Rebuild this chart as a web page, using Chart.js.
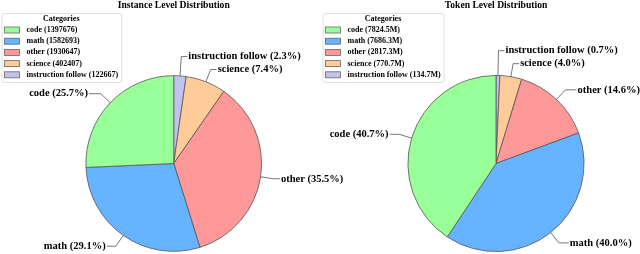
<!DOCTYPE html>
<html>
<head>
<meta charset="utf-8">
<script src="https://cdn.jsdelivr.net/npm/chart.js@4.4.0/dist/chart.umd.min.js"></script>
<style>
html, body { margin: 0; padding: 0; background: #fff; }
.stage { position: relative; width: 640px; height: 254px; }
/* both canvases cover the full width so labels can run past the halfway line */
.stage canvas { position: absolute; left: 0; top: 0; }
</style>
</head>
<body>
<div class="stage">
  <canvas id="instanceChart" width="640" height="254"></canvas>
  <canvas id="tokenChart" width="640" height="254"></canvas>
</div>
<script>
const categories = ['code', 'math', 'other', 'science', 'instruction follow'];
const instanceCounts = [1397676, 1582693, 1930647, 402407, 122667];
const tokenCounts = [7824.5, 7686.3, 2817.3, 770.7, 134.7]; // millions of tokens
const sliceColors = ['#99ff99', '#66b3ff', '#ff9999', '#ffcc99', '#c2c2f0'];

const SERIF = '"Liberation Serif", "Times New Roman", serif';

// original goes counter-clockwise from 12 o'clock, chart.js goes clockwise -> reverse
const rev = arr => arr.slice().reverse();

// outside labels with leader lines, placed from each arc's own geometry
const pieLabels = {
    id: 'pieLabels',
    afterDatasetsDraw(chart) {
        const ctx = chart.ctx;
        const values = chart.data.datasets[0].data;
        const total = values.reduce((a, b) => a + b, 0);
        const items = chart.getDatasetMeta(0).data.map((arc, i) => {
            const p = arc.getProps(['x', 'y', 'startAngle', 'endAngle', 'outerRadius'], true);
            const mid = (p.startAngle + p.endAngle) / 2;
            const c = Math.cos(mid), s = Math.sin(mid);
            return {
                text: chart.data.labels[i] + ' (' + (values[i] / total * 100).toFixed(1) + '%)',
                cx: p.x, cy: p.y, r: p.outerRadius, c: c, s: s,
                side: c >= 0 ? 1 : -1,
                ty: p.y + 1.15 * p.outerRadius * s
            };
        });
        // stop labels on the same side from piling up
        [1, -1].forEach(side => {
            const group = items.filter(it => it.side === side).sort((a, b) => b.ty - a.ty);
            for (let k = 1; k < group.length; k++) {
                if (group[k - 1].ty - group[k].ty < 13) group[k].ty = group[k - 1].ty - 13;
            }
        });

        ctx.save();
        ctx.font = 'bold 10.5px ' + SERIF;
        ctx.textBaseline = 'middle';
        ctx.strokeStyle = '#555';
        ctx.lineWidth = 0.8;
        ctx.fillStyle = '#000';
        items.forEach(it => {
            const ex = it.cx + it.r * it.c, ey = it.cy + it.r * it.s;
            let rc = it.r;
            if (Math.abs(it.s) > 0.05) rc = Math.max(it.r, (it.ty - it.cy) / it.s);
            const kx = it.cx + rc * it.c, ky = it.cy + rc * it.s;
            const tx = it.cx + it.side * Math.max(Math.min(1.35 * Math.abs(it.c), 1.22) * it.r,
                                                  Math.abs(kx - it.cx) + 7);
            ctx.beginPath();
            ctx.moveTo(ex, ey);
            ctx.lineTo(kx, ky);
            ctx.lineTo(tx - it.side, it.ty);
            ctx.stroke();
            ctx.textAlign = it.side > 0 ? 'left' : 'right';
            ctx.fillText(it.text, tx, it.ty);
        });
        ctx.restore();
    }
};

// boxed "Categories" legend in the top-left corner of each panel
const catLegend = {
    id: 'catLegend',
    afterDraw(chart, args, opts) {
        const ctx = chart.ctx;
        ctx.save();
        ctx.font = 'bold 8px ' + SERIF;
        const textW = Math.max(...opts.labels.map(t => ctx.measureText(t).width));
        const x = opts.x, y = opts.y, w = textW + 28, h = 69;
        ctx.fillStyle = 'rgba(255,255,255,0.8)';
        ctx.strokeStyle = '#d6d6d6';
        ctx.lineWidth = 0.8;
        ctx.beginPath();
        ctx.roundRect(x + 0.5, y + 0.5, w, h, 2);
        ctx.fill();
        ctx.stroke();

        ctx.fillStyle = '#000';
        ctx.textBaseline = 'middle';
        ctx.textAlign = 'center';
        ctx.fillText('Categories', x + w / 2, y + 6);
        ctx.textAlign = 'left';
        opts.labels.forEach((t, i) => {
            const ry = y + 17 + i * 11.2;
            ctx.fillStyle = opts.colors[i];
            ctx.fillRect(x + 3, ry - 3, 15, 6);
            ctx.strokeStyle = '#666';
            ctx.strokeRect(x + 3, ry - 3, 15, 6);
            ctx.fillStyle = '#000';
            ctx.fillText(t, x + 25, ry);
        });
        ctx.restore();
    }
};

function makePie(id, title, values, legendLabels, pad, legendX) {
    return new Chart(document.getElementById(id), {
        type: 'pie',
        data: {
            labels: rev(categories),
            datasets: [{
                data: rev(values),
                backgroundColor: rev(sliceColors),
                borderColor: '#555',
                borderWidth: 0.8
            }]
        },
        options: {
            responsive: false,
            animation: false,
            rotation: 0,
            events: [],
            layout: { padding: pad },
            plugins: {
                legend: { display: false },
                tooltip: { enabled: false },
                title: {
                    display: true,
                    text: title,
                    color: '#000',
                    font: { family: SERIF, size: 9.6, weight: 'bold' },
                    padding: { top: 0, bottom: 63.5 }
                },
                catLegend: { x: legendX, y: 13, labels: legendLabels, colors: sliceColors }
            }
        },
        plugins: [pieLabels, catLegend]
    });
}

makePie('instanceChart', 'Instance Level Distribution', instanceCounts,
    categories.map((c, i) => c + ' (' + instanceCounts[i] + ')'),
    { left: 85.5, right: 378, top: 0, bottom: 2 }, 1.5);

makePie('tokenChart', 'Token Level Distribution', tokenCounts,
    categories.map((c, i) => c + ' (' + tokenCounts[i].toFixed(1) + 'M)'),
    { left: 407.5, right: 55.5, top: 0, bottom: 2 }, 322.5);
</script>
</body>
</html>
